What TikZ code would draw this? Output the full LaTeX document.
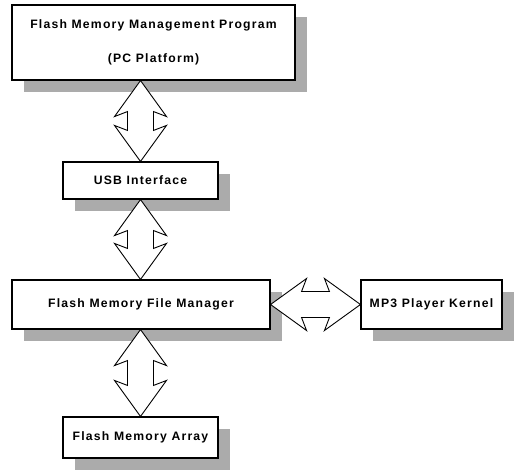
\documentclass[tikz,border=0pt]{standalone}
\usepackage{fontspec}
\usepackage{tikz}
\usetikzlibrary{calc,shadows}
\newfontfamily\boxfont{Liberation Sans Bold}[LetterSpace=10]

\begin{document}
\begin{tikzpicture}[x=1pt, y=-1pt]
\tikzstyle{box}=[draw, line width=1.1pt, fill=white, inner sep=0pt,
  font=\boxfont\fontsize{12.2}{34}\selectfont, align=center,
  drop shadow={shadow xshift=12pt, shadow yshift=-12pt, fill=black!33, opacity=1}];
\tikzstyle{fatarrow}=[draw, line width=0.9pt, fill=white, line join=miter,
  to path={
  -- ($(\tikztostart)!36pt!(\tikztotarget)!26pt!90:(\tikztotarget)$)
  -- ($(\tikztostart)!31pt!(\tikztotarget)!13pt!90:(\tikztotarget)$)
  -- ($(\tikztotarget)!31pt!(\tikztostart)!13pt!-90:(\tikztostart)$)
  -- ($(\tikztotarget)!36pt!(\tikztostart)!26pt!-90:(\tikztostart)$)
  -- (\tikztotarget)
  -- ($(\tikztotarget)!36pt!(\tikztostart)!26pt!90:(\tikztostart)$)
  -- ($(\tikztotarget)!31pt!(\tikztostart)!13pt!90:(\tikztostart)$)
  -- ($(\tikztostart)!31pt!(\tikztotarget)!13pt!-90:(\tikztotarget)$)
  -- ($(\tikztostart)!36pt!(\tikztotarget)!26pt!-90:(\tikztotarget)$)
  -- cycle}];
\useasboundingbox (0,0) rectangle (517,475);

\node[box, minimum width=283pt, minimum height=75pt] (prog) at (153.5,42.5)
  {Flash Memory Management Program\\(PC Platform)};
\node[box, minimum width=155pt, minimum height=37pt] (usb) at (140.5,180.5) {USB Interface};
\node[box, minimum width=258pt, minimum height=49pt] (fm) at (141,304.5) {Flash Memory File Manager};
\node[box, minimum width=141pt, minimum height=49pt] (mp3) at (431.5,304.5) {MP3 Player Kernel};
\node[box, minimum width=155pt, minimum height=41pt] (arr) at (140.5,437.5) {Flash Memory Array};

\path[fatarrow] (usb.north |- prog.south) to (usb.north);
\path[fatarrow] (usb.south) to (usb.south |- fm.north);
\path[fatarrow] (fm.south -| arr.north) to (arr.north);
\path[fatarrow] (fm.east) to (mp3.west);
\end{tikzpicture}
\end{document}
